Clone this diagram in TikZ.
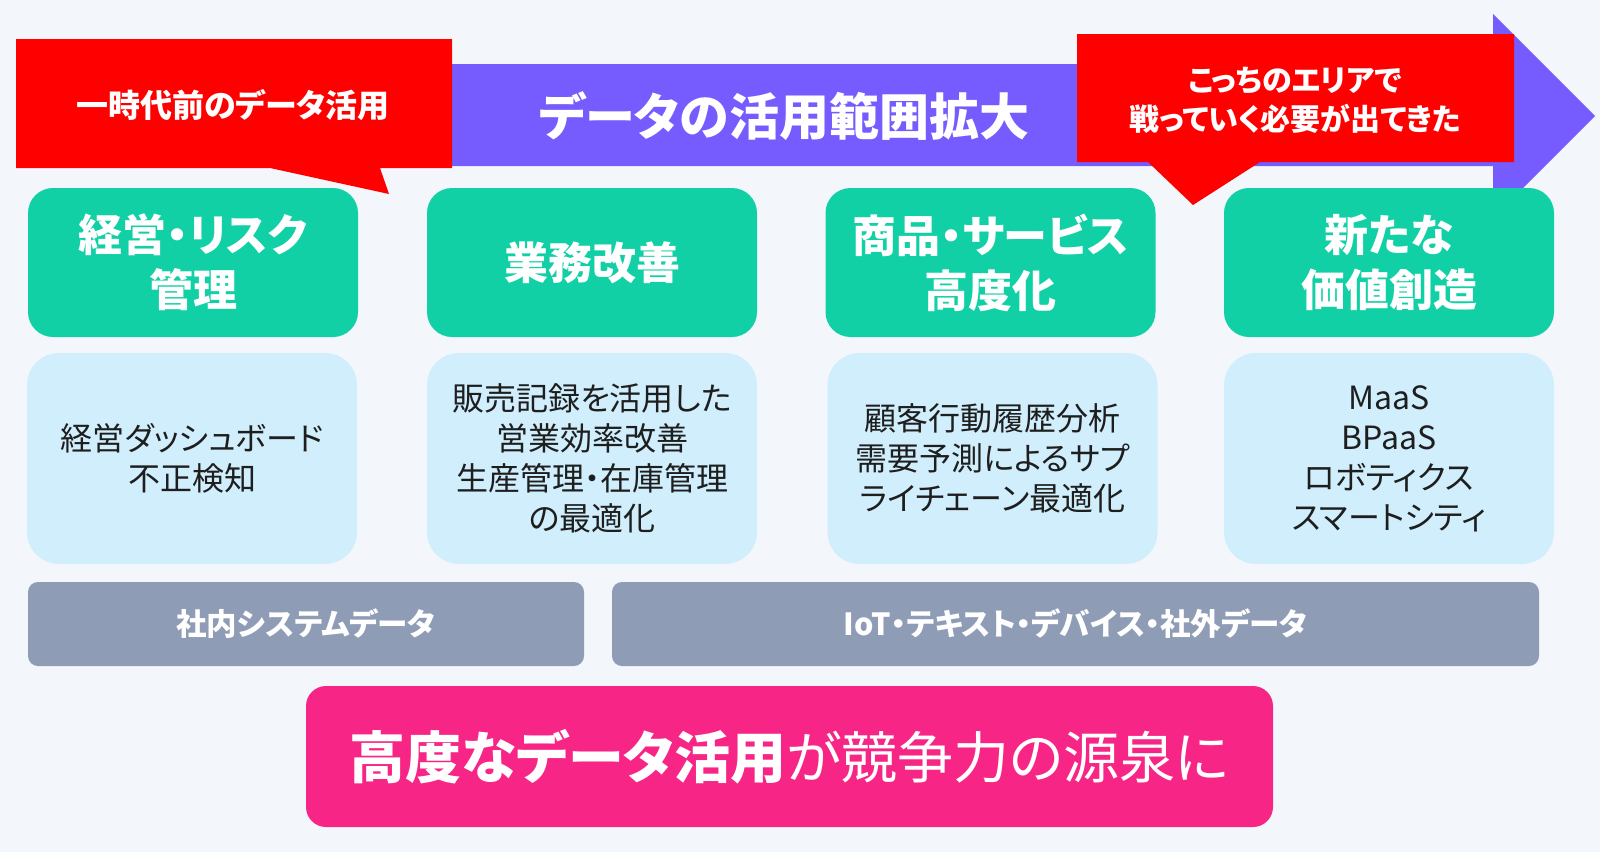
\documentclass[tikz,border=0pt]{standalone}
\usepackage{fontspec}
\setmainfont{Noto Sans CJK JP}[RawFeature={+palt}]
\definecolor{bgc}{HTML}{F3F7FB}
\definecolor{purp}{HTML}{765BFF}
\definecolor{redc}{HTML}{FF0000}
\definecolor{greenc}{HTML}{11D0A5}
\definecolor{lblue}{HTML}{D0EEFC}
\definecolor{grayc}{HTML}{8F9CB5}
\definecolor{pinkc}{HTML}{F72585}
\definecolor{darkt}{HTML}{1E1E1E}
\begin{document}
\begin{tikzpicture}[x=1pt,y=-1pt,
  greenbox/.style={fill=greenc, rounded corners=25pt, minimum width=330pt, minimum height=149pt, inner sep=0pt, align=center, text=white, font=\fontsize{44}{55}\selectfont\bfseries},
  bluebox/.style={fill=lblue, rounded corners=32pt, minimum width=330pt, minimum height=211pt, inner sep=0pt, align=center, text=darkt, font=\fontsize{32}{40}\selectfont},
  graybar/.style={fill=grayc, rounded corners=10pt, minimum height=84pt, inner sep=0pt, text=white, font=\fontsize{30.5}{34}\selectfont\bfseries},
  pinkbox/.style={fill=pinkc, rounded corners=20pt, minimum width=967pt, minimum height=141pt, inner sep=0pt, text=white, font=\fontsize{56}{60}\selectfont},
  calltext/.style={text=white, align=center, inner sep=0pt, font=\bfseries}
]
\useasboundingbox (0,0) rectangle (1600,852);
\fill[bgc] (0,0) rectangle (1600,852);
% purple arrow
\fill[purp] (440,64) -- (1493,64) -- (1493,14) -- (1595,116) -- (1493,218) -- (1493,166) -- (440,166) -- cycle;
\node[calltext, font=\fontsize{50}{52}\selectfont\bfseries] (range) at (784,116) {データの活用範囲拡大};
% red callouts
\fill[redc] (16,39) -- (452,39) -- (452,168) -- (380,168) -- (389,194) -- (270,168) -- (16,168) -- cycle;
\node[calltext, font=\fontsize{32}{36}\selectfont\bfseries] (old) at (233,105) {一時代前のデータ活用};
\fill[redc] (1077,34) -- (1514,34) -- (1514,162) -- (1260,162) -- (1193,205) -- (1148,162) -- (1077,162) -- cycle;
\node[calltext, font=\fontsize{30}{39}\selectfont\bfseries] (area) at (1295,100) {こっちのエリアで\\戦っていく必要が出てきた};
% green boxes
\node[greenbox] (g1) at (193,262.5) {経営・リスク\\管理};
\node[greenbox] (g2) at (592,262.5) {業務改善};
\node[greenbox] (g3) at (990.5,262.5) {商品・サービス\\高度化};
\node[greenbox] (g4) at (1389,262.5) {新たな\\価値創造};
% light blue boxes
\node[bluebox] (b1) at (192,458.5) {経営ダッシュボード\\不正検知};
\node[bluebox] (b2) at (592,458.5) {販売記録を活用した\\営業効率改善\\生産管理・在庫管理\\の最適化};
\node[bluebox] (b3) at (992.5,458.5) {顧客行動履歴分析\\需要予測によるサプ\\ライチェーン最適化};
\node[bluebox] (b4) at (1389,458.5) {MaaS\\BPaaS\\ロボティクス\\スマートシティ};
% gray bars
\node[graybar, minimum width=556pt] (d1) at (306,624) {社内システムデータ};
\node[graybar, minimum width=927pt] (d2) at (1075.5,624) {IoT・テキスト・デバイス・社外データ};
% pink box
\node[pinkbox] (p) at (789.5,756.5) {\textbf{高度なデータ活用}が競争力の源泉に};
\end{tikzpicture}
\end{document}
